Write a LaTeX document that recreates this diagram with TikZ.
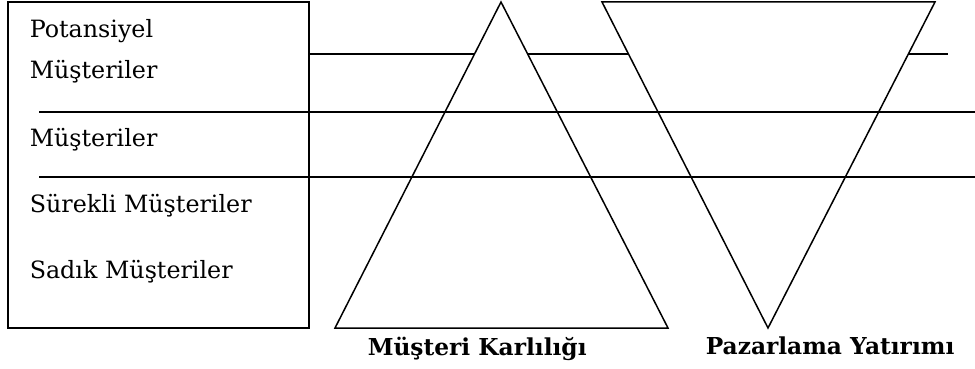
\documentclass[tikz,border=0pt]{standalone}
\usepackage{fontspec}
\setmainfont{DejaVu Serif}
\usepackage{tikz}
\usetikzlibrary{positioning}

\begin{document}
\begin{tikzpicture}[x=1pt,y=-1pt,line width=1.5pt,
    seg/.style={font=\fontsize{23.8}{28}\selectfont,anchor=base west,inner sep=0pt},
    lbl/.style={font=\fontsize{23.3}{28}\selectfont\bfseries,anchor=base west,inner sep=0pt}]
    \useasboundingbox (0,0) rectangle (975,369);

    % upper line runs behind the triangles
    \draw (309,54) -- (948,54);

    \draw (8,2) rectangle (309,328);
    \filldraw[fill=white] (335,328) coordinate (kl) -- (501,2) coordinate (kt) -- (668,328) coordinate (kr) -- cycle;
    \filldraw[fill=white] (602,2) coordinate (yl) -- (935,2) coordinate (yr) -- (768,328) coordinate (yb) -- cycle;

    % lines across everything
    \draw[line width=1.8pt] (39,112) -- (975,112);
    \draw[line width=1.3pt] (39,177) -- (975,177);

    \node[seg] (pot) at (29,38) {Potansiyel};
    \node[seg] (pmu) at (29,79) {Müşteriler};
    \node[seg] (mus) at (29,146) {Müşteriler};
    \node[seg] (sur) at (29,212) {Sürekli Müşteriler};
    \node[seg] (sad) at (29,278) {Sadık Müşteriler};

    \node[lbl] (kar) at (367,355) {Müşteri Karlılığı};
    \node[lbl] (yat) at (705,354) {Pazarlama Yatırımı};
\end{tikzpicture}
\end{document}
